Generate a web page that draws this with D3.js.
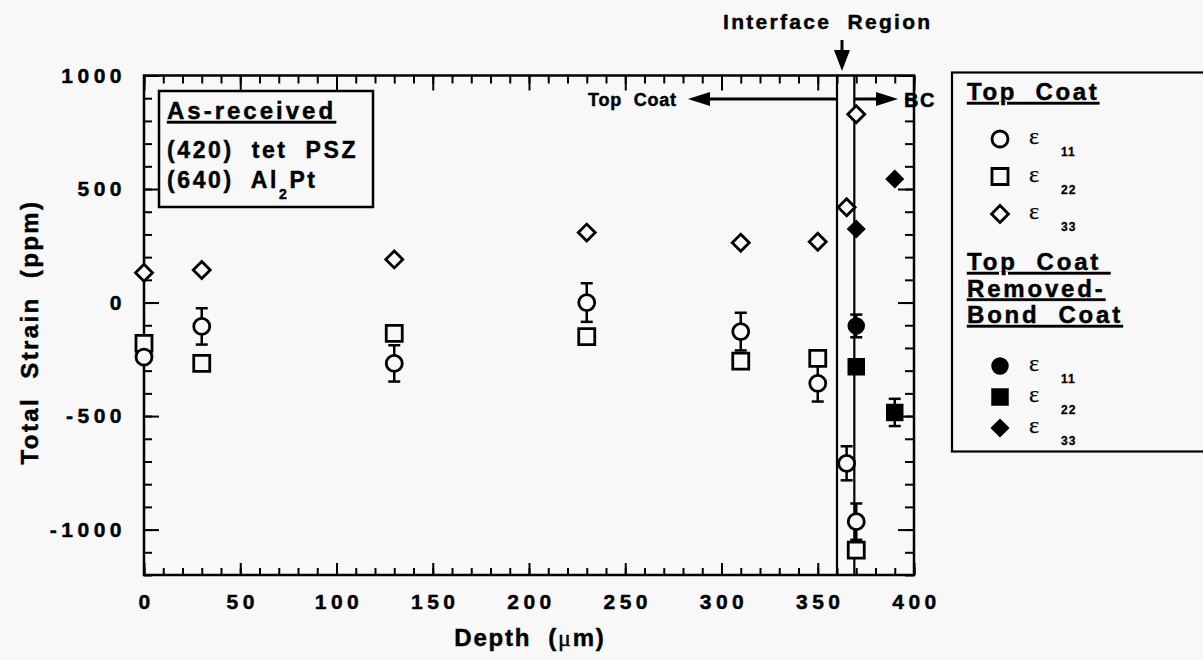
<!DOCTYPE html>
<html>
<head>
<meta charset="utf-8">
<script src="https://cdn.jsdelivr.net/npm/d3@7"></script>
<style>
body { margin: 0; background: #f8f8f8; }
svg { display: block; font-family: "Liberation Sans", Arial, sans-serif; font-weight: bold; }
text { fill: #000; white-space: pre; stroke: #000; stroke-width: 0.45px; }
</style>
</head>
<body>
<svg width="1203" height="660"></svg>
<script>
// ---- data ----
// Top Coat (open symbols)
const tc_e11_depth = [0, 30, 130, 230, 310, 350, 365, 370];
const tc_e11 = [-240, -105, -268, 0, -128, -356, -708, -965];
const tc_e11_err = [0, 80, 80, 85, 83, 80, 75, 80];
const tc_e22_depth = [0, 30, 130, 230, 310, 350, 370];
const tc_e22 = [-180, -268, -136, -150, -258, -246, -1090];
const tc_e33_depth = [0, 30, 130, 230, 310, 350, 365, 370];
const tc_e33 = [131, 143, 190, 308, 263, 268, 420, 829];
// Top Coat Removed - Bond Coat (filled symbols)
const bc_e11_depth = [370];
const bc_e11 = [-103];
const bc_e11_err = [50];
const bc_e22_depth = [370, 390];
const bc_e22 = [-283, -484];
const bc_e22_err = [0, 60];
const bc_e33_depth = [370, 390];
const bc_e33 = [324, 544];

const interface_depth = [360, 369];
const x_ticks = [0, 50, 100, 150, 200, 250, 300, 350, 400];
const y_ticks = [-1000, -500, 0, 500, 1000];

var svg = d3.select("svg");
const g = svg.append("g");

var x = d3.scaleLinear().domain([0, 400]).range([144, 914]);
var y = d3.scaleLinear().domain([-1200, 1000]).range([575, 75.5]);
const bg = "#f8f8f8";
const fmt = d => String(d);

function tick_font(sel, size, ls) {
	sel.attr("font-family", null).attr("font-size", null);
	sel.selectAll("text")
		.attr("font-size", size)
		.attr("letter-spacing", ls)
		.attr("fill", "#000");
	sel.selectAll("line").attr("stroke", "#000").attr("stroke-width", 2);
	sel.select(".domain").remove();
}

// minor ticks, all four sides, pointing inwards
g.append("g").attr("transform", "translate(0,575)")
	.call(d3.axisBottom(x).tickValues(d3.range(0, 401, 10)).tickSize(-7).tickFormat(""))
	.call(tick_font, 21, 4.5);
g.append("g").attr("transform", "translate(0,75.5)")
	.call(d3.axisTop(x).tickValues(d3.range(0, 401, 10)).tickSize(-8).tickFormat(""))
	.call(tick_font, 21, 4.5);
g.append("g").attr("transform", "translate(144,0)")
	.call(d3.axisLeft(y).tickValues(d3.range(-1200, 1001, 100)).tickSize(-8).tickFormat(""))
	.call(tick_font, 21, 4.5);
g.append("g").attr("transform", "translate(914,0)")
	.call(d3.axisRight(y).tickValues(d3.range(-1200, 1001, 100)).tickSize(-9).tickFormat(""))
	.call(tick_font, 21, 4.5);

// major ticks + labels
g.append("g").attr("transform", "translate(0,575)")
	.call(d3.axisBottom(x).tickValues(x_ticks).tickSize(-12).tickPadding(19).tickFormat(fmt))
	.call(tick_font, 21, 4.5)
	.selectAll("text").attr("dx", 2);
g.append("g").attr("transform", "translate(0,75.5)")
	.call(d3.axisTop(x).tickValues(x_ticks).tickSize(-15).tickFormat(""))
	.call(tick_font, 21, 4.5);
g.append("g").attr("transform", "translate(144,0)")
	.call(d3.axisLeft(y).tickValues(y_ticks).tickSize(-15).tickPadding(18).tickFormat(fmt))
	.call(tick_font, 21, 4.5);
g.append("g").attr("transform", "translate(914,0)")
	.call(d3.axisRight(y).tickValues(y_ticks).tickSize(-16).tickFormat(""))
	.call(tick_font, 21, 4.5);

// frame
g.append("rect")
	.attr("x", x(0)).attr("y", y(1000))
	.attr("width", x(400) - x(0)).attr("height", y(-1200) - y(1000))
	.attr("fill", "none").attr("stroke", "#000").attr("stroke-width", 2.5);

// interface region lines
g.selectAll(".iface").data(interface_depth).enter()
	.append("line")
	.attr("x1", d => x(d)).attr("x2", d => x(d))
	.attr("y1", y(1000)).attr("y2", y(-1200))
	.attr("stroke", "#000").attr("stroke-width", 2.2);

// arrows
function arrow(x1, y1, x2, y2, head_len, head_w) {
	const a = Math.atan2(y2 - y1, x2 - x1);
	const bx = x2 - head_len * Math.cos(a), by = y2 - head_len * Math.sin(a);
	g.append("line").attr("x1", x1).attr("y1", y1).attr("x2", bx).attr("y2", by)
		.attr("stroke", "#000").attr("stroke-width", 3);
	const px = -Math.sin(a) * head_w, py = Math.cos(a) * head_w;
	g.append("path")
		.attr("d", "M" + x2 + "," + y2 + "L" + (bx + px) + "," + (by + py) + "L" + (bx - px) + "," + (by - py) + "Z")
		.attr("fill", "#000");
}
arrow(x(interface_depth[0]), 99, 688, 99, 22, 7);
arrow(x(interface_depth[1]), 99, 898, 99, 22, 7);
arrow(842, 40, 842, 71, 21, 8);

g.append("text").attr("x", 723).attr("y", 29).attr("font-size", 21).attr("letter-spacing", 2.3)
	.text("Interface  Region");
g.append("text").attr("x", 588).attr("y", 106).attr("font-size", 18).attr("letter-spacing", 0.8)
	.text("Top  Coat");
g.append("text").attr("x", 904).attr("y", 107).attr("font-size", 20).attr("letter-spacing", 1.5)
	.text("BC");

// axis titles
g.append("text").attr("x", 530).attr("y", 646).attr("text-anchor", "middle")
	.attr("font-size", 24).attr("letter-spacing", 1.8)
	.html('Depth  (<tspan font-family="Liberation Serif" font-weight="normal">&#956;</tspan>m)');
g.append("text").attr("transform", "translate(38,332) rotate(-90)").attr("text-anchor", "middle")
	.attr("font-size", 24).attr("letter-spacing", 2.4)
	.text("Total  Strain  (ppm)");

// error bars
function err_bars(depths, vals, errs) {
	const d = depths.map((v, i) => ({ x: v, y: vals[i], e: errs[i] })).filter(p => p.e > 0);
	const eg = g.append("g").attr("stroke", "#000").attr("stroke-width", 2.5);
	d.forEach(function(p) {
		eg.append("line").attr("x1", x(p.x)).attr("x2", x(p.x)).attr("y1", y(p.y - p.e)).attr("y2", y(p.y + p.e));
		[p.y - p.e, p.y + p.e].forEach(function(v) {
			eg.append("line").attr("x1", x(p.x) - 6).attr("x2", x(p.x) + 6).attr("y1", y(v)).attr("y2", y(v));
		});
	});
}
err_bars(tc_e11_depth, tc_e11, tc_e11_err);
err_bars(bc_e11_depth, bc_e11, bc_e11_err);
err_bars(bc_e22_depth, bc_e22, bc_e22_err);

const sym = {
	circle: d3.symbol(d3.symbolCircle, Math.PI * 8 * 8),
	square: d3.symbol(d3.symbolSquare, 16 * 16),
	diamond: d3.symbol(d3.symbolSquare, 12 * 12)
};

function points(depths, vals, type, filled) {
	g.selectAll(null)
		.data(depths.map((v, i) => [v, vals[i]]))
		.enter()
		.append("path")
		.attr("d", sym[type])
		.attr("transform", d => "translate(" + x(d[0]) + "," + y(d[1]) + ")" + (type == "diamond" ? " rotate(45)" : ""))
		.attr("fill", filled ? "#000" : bg)
		.attr("stroke", "#000")
		.attr("stroke-width", filled ? 1.5 : 2.8);
}
points(tc_e22_depth, tc_e22, "square", false);
points(tc_e11_depth, tc_e11, "circle", false);
points(tc_e33_depth, tc_e33, "diamond", false);
points(bc_e11_depth, bc_e11, "circle", true);
points(bc_e22_depth, bc_e22, "square", true);
points(bc_e33_depth, bc_e33, "diamond", true);

// As-received box
const box = g.append("g");
box.append("rect").attr("x", 159).attr("y", 91).attr("width", 214).attr("height", 116)
	.attr("fill", bg).attr("stroke", "#000").attr("stroke-width", 2.5);
box.append("text").attr("x", 167).attr("y", 119).attr("font-size", 24).attr("letter-spacing", 3)
	.attr("text-decoration", "underline").text("As-received");
box.append("text").attr("x", 167).attr("y", 158).attr("font-size", 23).attr("letter-spacing", 2.6)
	.text("(420)  tet  PSZ");
box.append("text").attr("x", 167).attr("y", 188).attr("font-size", 23).attr("letter-spacing", 2.6)
	.html('(640)  Al<tspan dy="11" font-size="14">2</tspan><tspan dy="-11">Pt</tspan>');

// legend
const leg = g.append("g");
leg.append("rect").attr("x", 952).attr("y", 72.5).attr("width", 270).attr("height", 379)
	.attr("fill", bg).attr("stroke", "#000").attr("stroke-width", 2.2);

const leg_head1 = ["Top  Coat"];
const leg_head2 = ["Top  Coat ", "Removed-", "Bond  Coat"];
const leg_subs = ["11", "22", "33"];
const leg_types = ["circle", "square", "diamond"];

leg.selectAll(".h1").data(leg_head1).enter().append("text")
	.attr("x", 967).attr("y", (d, i) => 100 + i * 27)
	.attr("font-size", 24).attr("letter-spacing", 2.6).attr("text-decoration", "underline").text(d => d);
leg.selectAll(".h2").data(leg_head2).enter().append("text")
	.attr("x", 967).attr("y", (d, i) => 270 + i * 26.5)
	.attr("font-size", 24).attr("letter-spacing", 2.8).attr("text-decoration", "underline").text(d => d);

function legend_rows(y0, step, filled) {
	leg_types.forEach(function(t, i) {
		const cy = y0 + i * step;
		leg.append("path").attr("d", sym[t])
			.attr("transform", "translate(1000," + cy + ")" + (t == "diamond" ? " rotate(45)" : ""))
			.attr("fill", filled ? "#000" : bg).attr("stroke", "#000").attr("stroke-width", filled ? 1.5 : 2.8);
		leg.append("text").attr("x", 1029).attr("y", cy + 5)
			.attr("font-family", "Liberation Serif").attr("font-weight", "normal").attr("font-size", 24)
			.style("stroke-width", "0.25px")
			.text("\u03b5");
		leg.append("text").attr("x", 1061).attr("y", cy + 17)
			.attr("font-size", 12).attr("letter-spacing", 1).style("stroke-width", "0.3px").text(leg_subs[i]);
	});
}
legend_rows(139, 37.5, false);
legend_rows(366, 31, true);
</script>
</body>
</html>
